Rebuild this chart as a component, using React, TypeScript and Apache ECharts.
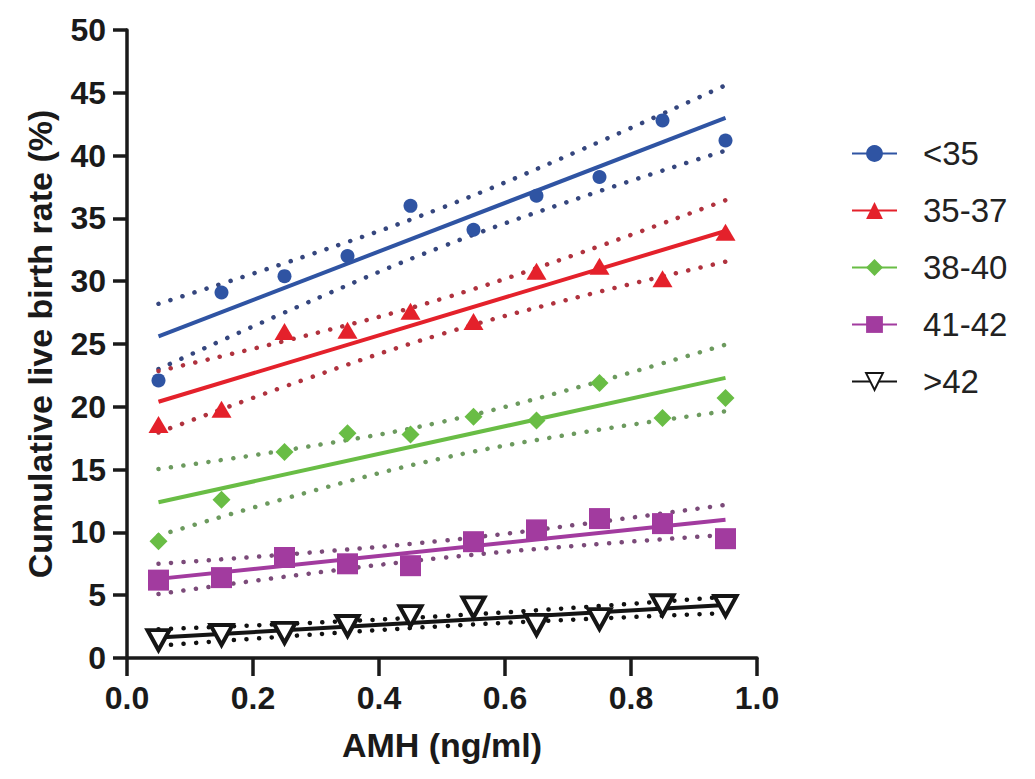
import React, { useEffect, useRef } from "react";
import * as echarts from "echarts";

// AMH bins (x positions of the points)
const xValues = [0.05, 0.15, 0.25, 0.35, 0.45, 0.55, 0.65, 0.75, 0.85, 0.95];
const groups = ["<35", "35-37", "38-40", "41-42", ">42"];

// Cumulative live birth rate (%) per age group
const under35 = [22.1, 29.1, 30.4, 32.0, 36.0, 34.1, 36.8, 38.3, 42.8, 41.2];
const age35to37 = [18.6, 19.8, 26.0, 26.1, 27.6, 26.8, 30.8, 31.2, 30.2, 33.9];
const age38to40 = [9.3, 12.6, 16.4, 17.9, 17.8, 19.2, 18.9, 21.9, 19.1, 20.7];
const age41to42 = [6.2, 6.4, 8.0, 7.5, 7.35, 9.26, 10.2, 11.1, 10.7, 9.5];
const over42 = [1.43, 1.83, 2.0, 2.55, 3.34, 4.03, 2.63, 3.1, 4.2, 4.14];

// Fitted regression lines (end points)
const fitX = [0.05, 0.95];
const fitUnder35 = [25.6, 43.0];
const fit35to37 = [20.4, 34.0];
const fit38to40 = [12.4, 22.3];
const fit41to42 = [6.3, 11.0];
const fitOver42 = [1.63, 4.22];

// 95% confidence bands
const bandX = [0.05, 0.275, 0.5, 0.725, 0.95];
const upperUnder35 = [28.2, 31.85, 35.85, 40.55, 45.6];
const lowerUnder35 = [23.0, 28.05, 32.75, 36.75, 40.4];
const upper35to37 = [22.85, 25.55, 28.6, 32.35, 36.45];
const lower35to37 = [17.95, 22.05, 25.8, 28.85, 31.55];
const upper38to40 = [15.05, 16.73, 18.8, 21.68, 24.95];
const lower38to40 = [9.75, 13.03, 15.9, 17.98, 19.65];
const upper41to42 = [7.5, 8.33, 9.33, 10.68, 12.2];
const lower41to42 = [5.1, 6.63, 7.97, 8.98, 9.8];
const upperOver42 = [2.28, 2.76, 3.33, 4.05, 4.87];
const lowerOver42 = [0.98, 1.8, 2.53, 3.09, 3.57];

const xTicks = { min: 0, max: 1, interval: 0.2 };
const yTicks = { min: 0, max: 50, interval: 5 };

const points = [under35, age35to37, age38to40, age41to42, over42];
const fits = [fitUnder35, fit35to37, fit38to40, fit41to42, fitOver42];
const uppers = [upperUnder35, upper35to37, upper38to40, upper41to42, upperOver42];
const lowers = [lowerUnder35, lower35to37, lower38to40, lower41to42, lowerOver42];

const colors = ["#2f54a3", "#e4212b", "#69bd45", "#a23b9f", "#151515"];
const dotColors = ["#35467e", "#b0323e", "#6c9a5e", "#7b4a79", "#111111"];
const symbols = ["circle", "triangle", "diamond", "rect", "triangle"];
const symbolSizes: any[] = [14, [20, 17], [18, 18], [21, 21], [22, 20]];

const FONT = "'Liberation Sans', Arial, Helvetica, sans-serif";

export default function App() {
  const ref = useRef<HTMLDivElement>(null);
  useEffect(() => {
    if (!ref.current) return;
    const chart = echarts.init(ref.current, null, { renderer: "svg" });
    const series: any[] = [];
    groups.forEach((g, i) => {
      const isOpen = i === 4;
      series.push({
        name: g,
        type: "line",
        data: fitX.map((x, k) => [x, fits[i][k]]),
        symbol: symbols[i],
        symbolRotate: isOpen ? 180 : 0,
        showSymbol: false,
        lineStyle: { color: colors[i], width: 4 },
        itemStyle: isOpen
          ? { color: "#ffffff", borderColor: colors[i], borderWidth: 3, opacity: 1 }
          : { color: colors[i], opacity: 1 },
        z: 3,
        silent: true,
      });
      [uppers[i], lowers[i]].forEach((band) => {
        series.push({
          type: "line",
          data: bandX.map((x, k) => [x, band[k]]),
          symbol: "none",
          smooth: 0.4,
          lineStyle: { color: dotColors[i], width: 4.5, type: [0.1, 12.5], cap: "round" },
          z: 2,
          silent: true,
        });
      });
      series.push({
        type: "scatter",
        data: xValues.map((x, k) => [x, points[i][k]]),
        symbol: symbols[i],
        symbolRotate: isOpen ? 180 : 0,
        symbolSize: symbolSizes[i],
        itemStyle: isOpen
          ? { color: "#ffffff", borderColor: colors[i], borderWidth: 4, opacity: 1 }
          : { color: colors[i], opacity: 1 },
        z: 5,
        silent: true,
      });
    });

    chart.setOption({
      animation: false,
      backgroundColor: "#ffffff",
      grid: { left: 127, right: 278, top: 30, bottom: 121, containLabel: false },
      xAxis: {
        type: "value",
        min: xTicks.min,
        max: xTicks.max,
        interval: xTicks.interval,
        name: "AMH (ng/ml)",
        nameLocation: "middle",
        nameGap: 70,
        nameTextStyle: { fontFamily: FONT, fontWeight: "bold", fontSize: 34, color: "#1a1a1a" },
        axisLine: { show: true, lineStyle: { color: "#1a1a1a", width: 3.5 } },
        axisTick: { show: true, length: 18, lineStyle: { color: "#1a1a1a", width: 3.5 } },
        axisLabel: {
          margin: 24,
          fontFamily: FONT,
          fontWeight: "bold",
          fontSize: 32,
          color: "#1a1a1a",
          formatter: (v: number) => v.toFixed(1),
        },
        splitLine: { show: false },
      },
      yAxis: {
        type: "value",
        min: yTicks.min,
        max: yTicks.max,
        interval: yTicks.interval,
        name: "Cumulative live birth rate (%)",
        nameLocation: "middle",
        nameRotate: 90,
        nameGap: 70,
        nameTextStyle: { fontFamily: FONT, fontWeight: "bold", fontSize: 34, color: "#1a1a1a" },
        axisLine: { show: true, lineStyle: { color: "#1a1a1a", width: 3.5 } },
        axisTick: { show: true, length: 14, lineStyle: { color: "#1a1a1a", width: 3.5 } },
        axisLabel: { margin: 21, fontFamily: FONT, fontWeight: "bold", fontSize: 32, color: "#1a1a1a" },
        splitLine: { show: false },
      },
      legend: {
        data: groups,
        orient: "vertical",
        left: 851,
        top: 137,
        padding: 0,
        itemWidth: 45,
        itemHeight: 21,
        itemGap: 24,
        selectedMode: false,
        textStyle: { fontFamily: FONT, fontSize: 33, color: "#222222", padding: [0, 0, 0, 21] },
      },
      series,
    });
    return () => chart.dispose();
  }, []);
  return (
    <div
      ref={ref}
      style={{ position: "absolute", left: 0, top: 0, width: 1035, height: 779, background: "#fff" }}
    />
  );
}
